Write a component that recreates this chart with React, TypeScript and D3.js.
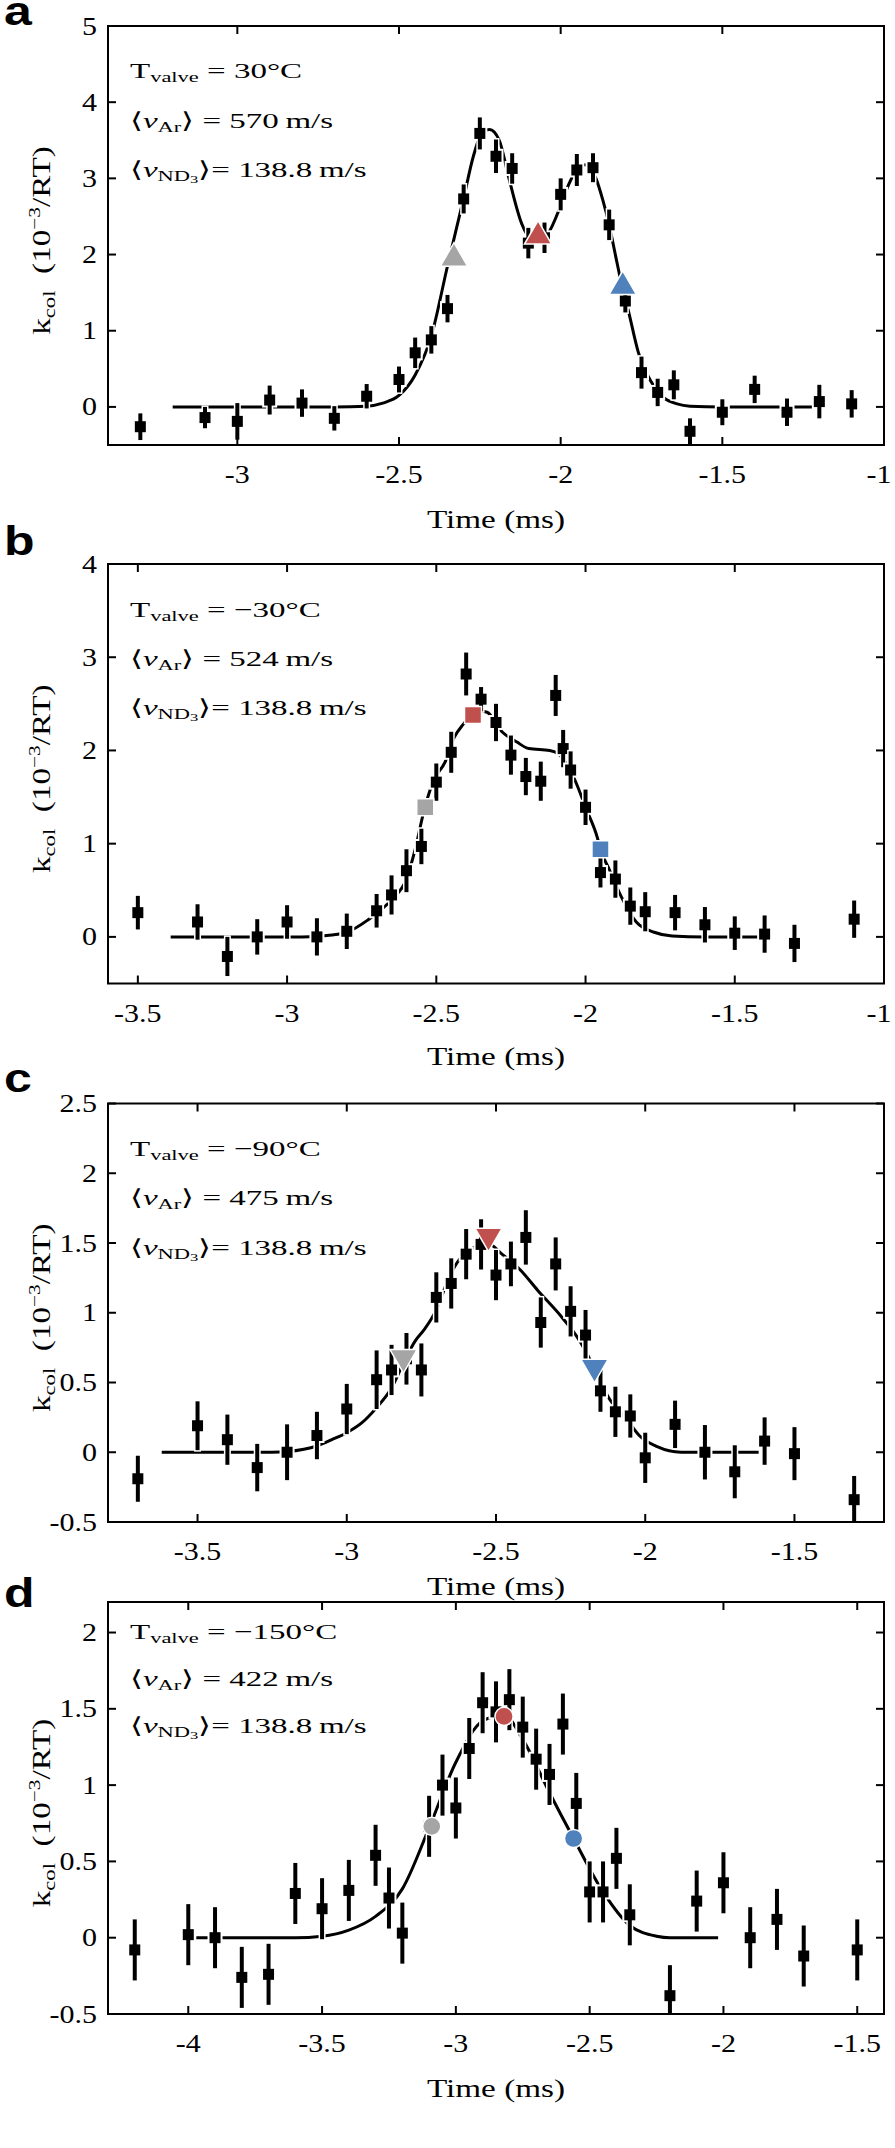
import React from "react";
import * as d3 from "d3";

const W = 895;
const H = 2148;
const PLOT_LEFT = 108;
const PLOT_RIGHT = 884;
const SERIF = "'Liberation Serif', 'Times New Roman', serif";
const SANS = "'Liberation Sans', Arial, sans-serif";

const GRAY = "#a5a5a5";
const RED = "#c0504d";
const BLUE = "#4f81bd";

// ---------- Panel a (T_valve = 30 C) ----------
const aTime = [-3.3, -3.1, -3.0, -2.9, -2.8, -2.7, -2.6, -2.5, -2.45, -2.4, -2.35, -2.3, -2.25, -2.2, -2.15, -2.1, -2.05, -2.0, -1.95, -1.9, -1.85, -1.8, -1.75, -1.7, -1.65, -1.6, -1.5, -1.4, -1.3, -1.2, -1.1];
const aValue = [-0.26, -0.14, -0.19, 0.09, 0.05, -0.15, 0.14, 0.36, 0.71, 0.88, 1.29, 2.73, 3.59, 3.29, 3.13, 2.15, 2.22, 2.79, 3.11, 3.14, 2.39, 1.39, 0.45, 0.19, 0.29, -0.32, -0.07, 0.23, -0.07, 0.07, 0.04];
const aErr = [0.175, 0.14, 0.24, 0.19, 0.18, 0.16, 0.16, 0.17, 0.2, 0.18, 0.18, 0.19, 0.21, 0.22, 0.2, 0.2, 0.2, 0.21, 0.21, 0.19, 0.2, 0.15, 0.21, 0.18, 0.19, 0.17, 0.17, 0.18, 0.18, 0.22, 0.18];
const aFitTime = [-3.2, -2.7, -2.6, -2.55, -2.5, -2.45, -2.4, -2.35, -2.3, -2.27, -2.24, -2.22, -2.19, -2.16, -2.12, -2.09, -2.07, -2.04, -2.0, -1.975, -1.95, -1.925, -1.89, -1.87, -1.85, -1.83, -1.81, -1.79, -1.76, -1.72, -1.68, -1.64, -1.6, -1.5, -1.2];
const aFitValue = [0, 0, 0.01, 0.05, 0.15, 0.42, 0.93, 1.85, 2.74, 3.29, 3.62, 3.64, 3.5, 3.0, 2.4, 2.2, 2.19, 2.27, 2.64, 2.92, 3.12, 3.18, 2.99, 2.72, 2.39, 1.98, 1.58, 1.25, 0.72, 0.33, 0.12, 0.04, 0.01, 0, 0];
const aMarkTime = [-2.33, -2.07, -1.808];
const aMarkValue = [1.95, 2.24, 1.58];
const aXTicks = [-3, -2.5, -2, -1.5, -1];
const aYTicks = [0, 1, 2, 3, 4, 5];

// ---------- Panel b (T_valve = -30 C) ----------
const bTime = [-3.5, -3.3, -3.2, -3.1, -3.0, -2.9, -2.8, -2.7, -2.65, -2.6, -2.55, -2.5, -2.45, -2.4, -2.35, -2.3, -2.25, -2.2, -2.15, -2.1, -2.075, -2.05, -2.0, -1.95, -1.9, -1.85, -1.8, -1.7, -1.6, -1.5, -1.4, -1.3, -1.1];
const bValue = [0.26, 0.16, -0.21, 0.0, 0.16, 0.0, 0.06, 0.28, 0.45, 0.71, 0.97, 1.66, 1.98, 2.82, 2.55, 2.3, 1.95, 1.72, 1.67, 2.59, 2.02, 1.79, 1.39, 0.69, 0.62, 0.33, 0.27, 0.26, 0.13, 0.04, 0.03, -0.07, 0.19];
const bErr = [0.18, 0.19, 0.21, 0.19, 0.18, 0.2, 0.19, 0.18, 0.21, 0.23, 0.19, 0.2, 0.22, 0.23, 0.13, 0.2, 0.21, 0.2, 0.21, 0.22, 0.2, 0.2, 0.19, 0.16, 0.2, 0.2, 0.21, 0.19, 0.19, 0.18, 0.2, 0.2, 0.2];
const bFitTime = [-3.39, -2.95, -2.85, -2.8, -2.73, -2.65, -2.6, -2.57, -2.54, -2.51, -2.47, -2.44, -2.41, -2.38, -2.35, -2.33, -2.28, -2.23, -2.19, -2.12, -2.09, -2.05, -2.03, -2.0, -1.96, -1.95, -1.92, -1.88, -1.83, -1.77, -1.71, -1.6, -1.39];
const bFitValue = [0, 0, 0.02, 0.05, 0.18, 0.4, 0.62, 0.95, 1.37, 1.67, 1.88, 2.14, 2.28, 2.38, 2.42, 2.41, 2.2, 2.09, 2.02, 2.0, 1.96, 1.78, 1.64, 1.39, 1.06, 0.94, 0.72, 0.43, 0.16, 0.05, 0.01, 0, 0];
const bMarkTime = [-2.537, -2.377, -1.95];
const bMarkValue = [1.39, 2.38, 0.94];
const bXTicks = [-3.5, -3, -2.5, -2, -1.5, -1];
const bYTicks = [0, 1, 2, 3, 4];

// ---------- Panel c (T_valve = -90 C) ----------
const cTime = [-3.7, -3.5, -3.4, -3.3, -3.2, -3.1, -3.0, -2.9, -2.85, -2.8, -2.75, -2.7, -2.65, -2.6, -2.55, -2.5, -2.45, -2.4, -2.35, -2.3, -2.25, -2.2, -2.15, -2.1, -2.05, -2.0, -1.9, -1.8, -1.7, -1.6, -1.5, -1.3];
const cValue = [-0.19, 0.19, 0.09, -0.11, 0.0, 0.12, 0.31, 0.52, 0.59, 0.67, 0.59, 1.11, 1.21, 1.42, 1.49, 1.27, 1.35, 1.54, 0.93, 1.35, 1.01, 0.84, 0.44, 0.29, 0.26, -0.04, 0.2, 0.0, -0.14, 0.08, -0.01, -0.34];
const cErr = [0.165, 0.175, 0.18, 0.17, 0.2, 0.17, 0.18, 0.21, 0.18, 0.185, 0.19, 0.18, 0.18, 0.18, 0.18, 0.18, 0.16, 0.195, 0.18, 0.19, 0.18, 0.18, 0.15, 0.18, 0.155, 0.18, 0.17, 0.195, 0.19, 0.17, 0.19, 0.17];
const cFitTime = [-3.62, -3.25, -3.2, -3.1, -3.05, -3.0, -2.95, -2.9, -2.85, -2.81, -2.77, -2.74, -2.7, -2.66, -2.63, -2.58, -2.53, -2.48, -2.42, -2.36, -2.28, -2.22, -2.17, -2.125, -2.06, -2.02, -1.96, -1.88, -1.62];
const cFitValue = [0, 0, 0.005, 0.045, 0.09, 0.14, 0.21, 0.32, 0.46, 0.64, 0.8, 0.88, 1.02, 1.24, 1.36, 1.46, 1.5, 1.42, 1.31, 1.16, 0.97, 0.8, 0.6, 0.4, 0.23, 0.12, 0.04, 0.0, 0];
const cMarkTime = [-2.81, -2.525, -2.17];
const cMarkValue = [0.68, 1.55, 0.61];
const cXTicks = [-3.5, -3, -2.5, -2, -1.5];
const cYTicks = [-0.5, 0, 0.5, 1, 1.5, 2, 2.5];

// ---------- Panel d (T_valve = -150 C) ----------
const dTime = [-4.2, -4.0, -3.9, -3.8, -3.7, -3.6, -3.5, -3.4, -3.3, -3.25, -3.2, -3.1, -3.05, -3.0, -2.95, -2.9, -2.85, -2.8, -2.75, -2.7, -2.65, -2.6, -2.55, -2.5, -2.45, -2.4, -2.35, -2.2, -2.1, -2.0, -1.9, -1.8, -1.7, -1.5];
const dValue = [-0.08, 0.02, 0.0, -0.26, -0.24, 0.29, 0.19, 0.31, 0.54, 0.26, 0.03, 0.73, 1.0, 0.85, 1.24, 1.54, 1.48, 1.56, 1.38, 1.17, 1.07, 1.4, 0.88, 0.3, 0.3, 0.52, 0.15, -0.38, 0.24, 0.36, 0.0, 0.12, -0.12, -0.08];
const dErr = [0.2, 0.2, 0.2, 0.2, 0.2, 0.2, 0.2, 0.2, 0.2, 0.2, 0.2, 0.2, 0.2, 0.2, 0.2, 0.2, 0.2, 0.2, 0.2, 0.2, 0.2, 0.2, 0.2, 0.2, 0.2, 0.2, 0.2, 0.2, 0.2, 0.2, 0.2, 0.2, 0.2, 0.2];
const dFitTime = [-3.97, -3.6, -3.5, -3.4, -3.3, -3.2, -3.1, -3.0, -2.9, -2.82, -2.75, -2.65, -2.56, -2.45, -2.35, -2.25, -2.2, -2.02];
const dFitValue = [0, 0, 0.01, 0.05, 0.14, 0.32, 0.72, 1.15, 1.42, 1.46, 1.3, 0.95, 0.65, 0.3, 0.08, 0.01, 0, 0];
const dMarkTime = [-3.09, -2.82, -2.56];
const dMarkValue = [0.73, 1.45, 0.65];
const dXTicks = [-4, -3.5, -3, -2.5, -2, -1.5];
const dYTicks = [-0.5, 0, 0.5, 1, 1.5, 2];

type PanelCfg = {
  letter: string;
  letterY: number;
  top: number;
  height: number;
  timeOffset: number;
  annTop: number;
  annGap: number;
  xDomain: [number, number];
  yDomain: [number, number];
  xTicks: number[];
  yTicks: number[];
  time: number[];
  value: number[];
  err: number[];
  fitTime: number[];
  fitValue: number[];
  markTime: number[];
  markValue: number[];
  marker: "up" | "square" | "down" | "circle";
  tValve: string;
  vAr: string;
};

const panels: PanelCfg[] = [
  { letter: "a", letterY: 25, top: 26, height: 419, timeOffset: 83, annTop: 52, annGap: 49.5, xDomain: [-3.4, -1], yDomain: [-0.5, 5], xTicks: aXTicks, yTicks: aYTicks, time: aTime, value: aValue, err: aErr, fitTime: aFitTime, fitValue: aFitValue, markTime: aMarkTime, markValue: aMarkValue, marker: "up", tValve: "30", vAr: "570" },
  { letter: "b", letterY: 555, top: 564, height: 419.5, timeOffset: 81, annTop: 53, annGap: 49, xDomain: [-3.6, -1], yDomain: [-0.5, 4], xTicks: bXTicks, yTicks: bYTicks, time: bTime, value: bValue, err: bErr, fitTime: bFitTime, fitValue: bFitValue, markTime: bMarkTime, markValue: bMarkValue, marker: "square", tValve: "\u221230", vAr: "524" },
  { letter: "c", letterY: 1092, top: 1103.5, height: 418.5, timeOffset: 73, annTop: 52, annGap: 49.5, xDomain: [-3.8, -1.2], yDomain: [-0.5, 2.5], xTicks: cXTicks, yTicks: cYTicks, time: cTime, value: cValue, err: cErr, fitTime: cFitTime, fitValue: cFitValue, markTime: cMarkTime, markValue: cMarkValue, marker: "down", tValve: "\u221290", vAr: "475" },
  { letter: "d", letterY: 1607, top: 1602, height: 412, timeOffset: 83, annTop: 37, annGap: 47, xDomain: [-4.3, -1.4], yDomain: [-0.5, 2.2], xTicks: dXTicks, yTicks: dYTicks, time: dTime, value: dValue, err: dErr, fitTime: dFitTime, fitValue: dFitValue, markTime: dMarkTime, markValue: dMarkValue, marker: "circle", tValve: "\u2212150", vAr: "422" },
];

const MARK_COLORS = [GRAY, RED, BLUE];

function fmt(v: number): string {
  return String(v);
}

function ST(props: { x: number; y: number; size: number; sx: number; anchor?: string; rotate?: number; family?: string; weight?: string | number; children: React.ReactNode }) {
  const { x, y, size, sx, anchor = "start", rotate = 0, family = SERIF, weight = "normal", children } = props;
  return (
    <text
      transform={`translate(${x},${y}) rotate(${rotate}) scale(${sx},1)`}
      fontSize={size}
      textAnchor={anchor as any}
      fontFamily={family}
      fontWeight={weight}
      fill="#000"
    >
      {children}
    </text>
  );
}

function Panel({ cfg }: { cfg: PanelCfg }) {
  const bottom = cfg.top + cfg.height;
  const x = d3.scaleLinear().domain(cfg.xDomain).range([PLOT_LEFT, PLOT_RIGHT]);
  const y = d3.scaleLinear().domain(cfg.yDomain).range([bottom, cfg.top]);
  const fitPts: [number, number][] = cfg.fitTime.map((t, i) => [t, cfg.fitValue[i]]);
  const line = d3
    .line<[number, number]>()
    .x((d) => x(d[0]))
    .y((d) => y(d[1]))
    .curve(d3.curveMonotoneX);

  let symType: d3.SymbolType = d3.symbolCircle;
  let symSize = 260;
  let rot = 0;
  if (cfg.marker === "up") { symType = d3.symbolTriangle; symSize = 320; }
  if (cfg.marker === "down") { symType = d3.symbolTriangle; symSize = 320; rot = 180; }
  if (cfg.marker === "square") { symType = d3.symbolSquare; symSize = 290; }
  const symPath = d3.symbol().type(symType).size(symSize)() || "";

  const tick = 8;
  const TICK_FS = 25;
  const TICK_SX = 1.2;
  const ANN_FS = 22;
  const ANN_SX = 1.5;
  const SUB = 15;
  const annX = 130;
  const l1 = cfg.top + cfg.annTop;
  const gap = cfg.annGap;

  return (
    <g>
      {/* panel letter */}
      <ST x={4} y={cfg.letterY} size={40} sx={1.25} family={SANS} weight="bold">{cfg.letter}</ST>

      {/* fit line */}
      <path d={line(fitPts) || ""} fill="none" stroke="#000" strokeWidth={3} />

      {/* data points with error bars */}
      {cfg.time.map((t, i) => {
        const cx = x(t);
        const cy = y(cfg.value[i]);
        const y1 = y(cfg.value[i] + cfg.err[i]);
        const y2 = y(cfg.value[i] - cfg.err[i]);
        return (
          <g key={i}>
            <line x1={cx} x2={cx} y1={y1 - 1.5} y2={Math.min(y2 + 1.5, bottom)} stroke="#fff" strokeWidth={7} />
            <rect x={cx - 7.5} y={cy - 7.5} width={15} height={15} fill="#fff" />
            <line x1={cx} x2={cx} y1={y1} y2={Math.min(y2, bottom)} stroke="#000" strokeWidth={4} />
            <rect x={cx - 5.5} y={cy - 5.5} width={11} height={11} fill="#000" />
          </g>
        );
      })}

      {/* highlighted points */}
      {cfg.markTime.map((t, i) => (
        <path
          key={"m" + i}
          d={symPath}
          transform={`translate(${x(t)},${y(cfg.markValue[i])}) rotate(${rot})`}
          fill={MARK_COLORS[i]}
          stroke="#fff"
          strokeWidth={1.5}
        />
      ))}

      {/* frame */}
      <rect x={PLOT_LEFT} y={cfg.top} width={PLOT_RIGHT - PLOT_LEFT} height={cfg.height} fill="none" stroke="#000" strokeWidth={2} />

      {/* ticks */}
      {cfg.xTicks.map((v, i) => (
        <g key={"xt" + i}>
          <line x1={x(v)} x2={x(v)} y1={bottom} y2={bottom - tick} stroke="#000" strokeWidth={2} />
          <line x1={x(v)} x2={x(v)} y1={cfg.top} y2={cfg.top + tick} stroke="#000" strokeWidth={2} />
          <ST x={Math.min(x(v), 879)} y={bottom + 38} size={TICK_FS} sx={TICK_SX} anchor="middle">{fmt(v)}</ST>
        </g>
      ))}
      {cfg.yTicks.map((v, i) => (
        <g key={"yt" + i}>
          <line x1={PLOT_LEFT} x2={PLOT_LEFT + tick} y1={y(v)} y2={y(v)} stroke="#000" strokeWidth={2} />
          <line x1={PLOT_RIGHT} x2={PLOT_RIGHT - tick} y1={y(v)} y2={y(v)} stroke="#000" strokeWidth={2} />
          <ST x={97} y={y(v) + 8.5} size={TICK_FS} sx={TICK_SX} anchor="end">{fmt(v)}</ST>
        </g>
      ))}

      {/* axis labels */}
      <ST x={(PLOT_LEFT + PLOT_RIGHT) / 2} y={bottom + cfg.timeOffset} size={25} sx={1.33} anchor="middle">Time (ms)</ST>
      <ST x={50} y={cfg.top + cfg.height / 2 + 5} size={25} sx={1.33} anchor="middle" rotate={-90}>
        k<tspan fontSize={17} dy={5}>col</tspan>
        <tspan dy={-5}>{"\u2002(10"}</tspan>
        <tspan fontSize={16} dy={-10}>{"\u22123"}</tspan>
        <tspan dy={10}>/RT)</tspan>
      </ST>

      {/* annotation */}
      <ST x={annX} y={l1} size={ANN_FS} sx={ANN_SX}>
        T<tspan fontSize={SUB} dy={4}>valve</tspan>
        <tspan dy={-4}>{` = ${cfg.tValve}\u00B0C`}</tspan>
      </ST>
      <ST x={annX} y={l1 + gap} size={ANN_FS} sx={ANN_SX}>
        {"\u27E8"}<tspan fontStyle="italic">v</tspan>
        <tspan fontSize={SUB} dy={4}>Ar</tspan>
        <tspan dy={-4}>{"\u27E9"}{` = ${cfg.vAr}\u2009m/s`}</tspan>
      </ST>
      <ST x={annX} y={l1 + 2 * gap} size={ANN_FS} sx={ANN_SX}>
        {"\u27E8"}<tspan fontStyle="italic">v</tspan>
        <tspan fontSize={SUB} dy={4}>ND</tspan>
        <tspan fontSize={11} dy={2}>3</tspan>
        <tspan dy={-6}>{"\u27E9= 138.8\u2009m/s"}</tspan>
      </ST>
    </g>
  );
}

export default function App() {
  return (
    <div style={{ position: "absolute", left: 0, top: 0, width: W, height: H, background: "#fff" }}>
      <svg width={W} height={H} viewBox={`0 0 ${W} ${H}`} style={{ display: "block" }}>
        <rect x={0} y={0} width={W} height={H} fill="#fff" />
        {panels.map((p) => (
          <Panel key={p.letter} cfg={p} />
        ))}
      </svg>
    </div>
  );
}
